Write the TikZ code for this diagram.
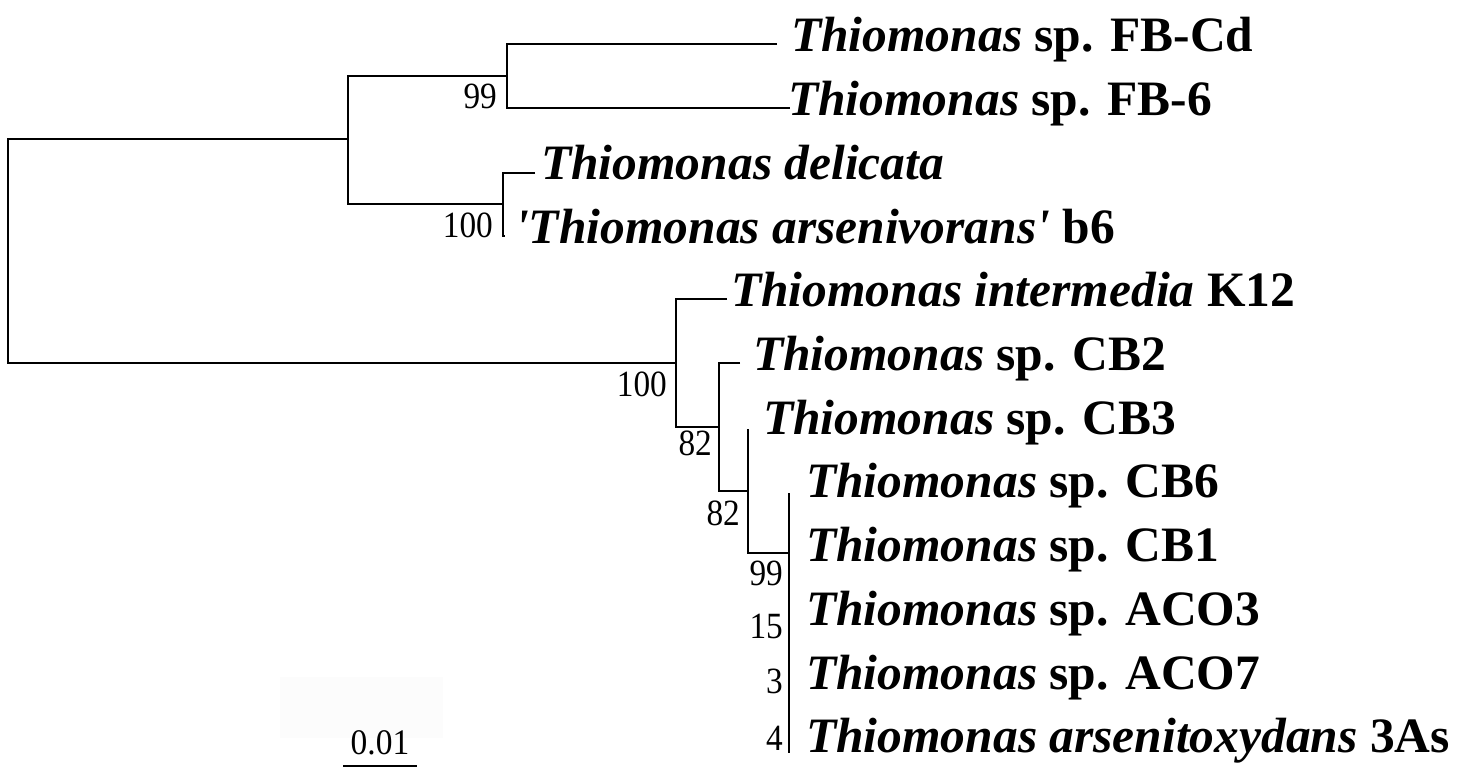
\documentclass[tikz,border=0pt]{standalone}
\usepackage{fontspec}
\setmainfont{Liberation Serif}[Ligatures=TeXOff]
\newcommand{\bootnum}[1]{\scalebox{0.9}[1]{#1}}
\begin{document}
\begin{tikzpicture}[x=1pt,y=-1pt,
  br/.style={line width=2pt},
  taxon/.style={anchor=base west, inner sep=0pt, font=\fontsize{49.5}{49.5}\selectfont\bfseries},
  boot/.style={anchor=base east, inner sep=0pt, font=\fontsize{37}{37}\selectfont},
]
\useasboundingbox (0,0) rectangle (1465,768);
\fill[black!1] (280,677) rectangle (443,738);

% internal nodes
\coordinate (root) at (8,251);
\coordinate (A) at (348,139);
\coordinate (n99) at (507,76);
\coordinate (n100a) at (503,204);
\coordinate (K) at (676,363);
\coordinate (n82a) at (719,427);
\coordinate (n82b) at (748,491);
\coordinate (n99b) at (789,553);
% tips
\coordinate (tFBCd) at (777,44);
\coordinate (tFB6) at (790,108);
\coordinate (tDel) at (535,173);
\coordinate (tB6) at (505,236);
\coordinate (tK12) at (727,299);
\coordinate (tCB2) at (740,363);
\coordinate (tCB3) at (748,429);
\coordinate (tCB6) at (789,493);
\coordinate (t3As) at (789,753);

% branches
\draw[br] (A) -| (root) |- (K);
\draw[br] (n99) -| (A) |- (n100a);
\draw[br] (tFBCd) -| (n99) |- (tFB6);
\draw[br] (tDel) -| (n100a) |- (tB6);
\draw[br] (tK12) -| (K) |- (n82a);
\draw[br] (tCB2) -| (n82a) |- (n82b);
\draw[br] (tCB3) -| (n82b) |- (n99b);
\draw[br] (tCB6) -- (t3As);

% taxon labels
\node[taxon] (LFBCd) at (791,52) {\textit{Thiomonas} sp. FB-Cd};
\node[taxon] (LFB6) at (788,115.7) {\textit{Thiomonas} sp. FB-6};
\node[taxon] (LDel) at (541,179.4) {\textit{Thiomonas delicata}};
\node[taxon] (LB6) at (515,243.1) {\textit{'Thiomonas arsenivorans'} b6};
\node[taxon] (LK12) at (731,306.8) {\textit{Thiomonas intermedia} K12};
\node[taxon] (LCB2) at (753,370.5) {\textit{Thiomonas} sp. CB2};
\node[taxon] (LCB3) at (763,434.2) {\textit{Thiomonas} sp. CB3};
\node[taxon] (LCB6) at (806,497.9) {\textit{Thiomonas} sp. CB6};
\node[taxon] (LCB1) at (806,561.6) {\textit{Thiomonas} sp. CB1};
\node[taxon] (LACO3) at (806,625.3) {\textit{Thiomonas} sp. ACO3};
\node[taxon] (LACO7) at (806,689) {\textit{Thiomonas} sp. ACO7};
\node[taxon] (L3As) at (806,752.7) {\textit{Thiomonas arsenitoxydans} 3As};

% bootstrap values
\node[boot] (b1) at (497,108) {\bootnum{99}};
\node[boot] (b2) at (493,237) {\bootnum{100}};
\node[boot] (b3) at (667,396) {\bootnum{100}};
\node[boot] (b4) at (712,455) {\bootnum{82}};
\node[boot] (b5) at (740,525) {\bootnum{82}};
\node[boot] (b6) at (783,585) {\bootnum{99}};
\node[boot] (b7) at (783,638) {\bootnum{15}};
\node[boot] (b8) at (783,693) {\bootnum{3}};
\node[boot] (b9) at (783,750) {\bootnum{4}};

% scale bar
\node[anchor=base, inner sep=0pt, font=\fontsize{36}{36}\selectfont] (sbl) at (380,754) {\scalebox{0.93}[1]{0.01}};
\coordinate (sb1) at (343,766);
\coordinate (sb2) at (417,766);
\draw[br] (sb1) -- (sb2);
\end{tikzpicture}
\end{document}
